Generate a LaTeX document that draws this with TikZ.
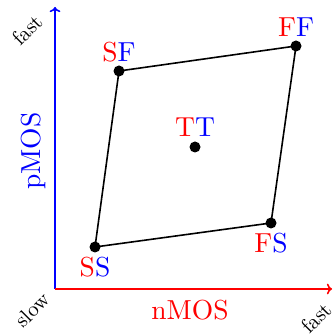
\documentclass[tikz,border=0pt]{standalone}
\usetikzlibrary{arrows.meta}
\begin{document}
\begin{tikzpicture}[x=1pt,y=1pt,
  axis/.style={line width=1.6pt,->},
  edge/.style={line width=1.6pt,black},
  corner/.style={circle,fill=black,inner sep=0pt,minimum size=11pt},
  lbl/.style={inner sep=0pt,anchor=base,scale=2.75,transform shape},
  ax/.style={inner sep=0pt,scale=2.1,transform shape}]
\useasboundingbox (0,0) rectangle (333,336);
\coordinate (O) at (55,47);
\coordinate (Y) at (55,329);
\coordinate (X) at (332,47);
\draw[axis,blue] (O) -- (Y);
\draw[axis,red] (O) -- (X);
\node[corner] (SS) at (95,89) {};
\node[corner] (FS) at (271,113) {};
\node[corner] (SF) at (119,265) {};
\node[corner] (FF) at (296,290) {};
\node[corner] (TT) at (195,189) {};
\draw[edge] (SS.center) -- (FS.center) -- (FF.center) -- (SF.center) -- cycle;
\node[lbl] (lSF) at (119,274) {\textcolor{red}{S}\textcolor{blue}{F}};
\node[lbl] (lFF) at (296,299) {\textcolor{red}{F}\textcolor{blue}{F}};
\node[lbl] (lTT) at (195,199) {\textcolor{red}{T}\textcolor{blue}{T}};
\node[lbl] (lFS) at (271,83) {\textcolor{red}{F}\textcolor{blue}{S}};
\node[lbl] (lSS) at (95,59) {\textcolor{red}{S}\textcolor{blue}{S}};
\node[lbl,red] (nmos) at (190,16) {nMOS};
\node[lbl,blue,rotate=90] (pmos) at (40,185) {pMOS};
\node[ax,rotate=45] (fy) at (27,306) {fast};
\node[ax,rotate=45] (slow) at (32,26) {slow};
\node[ax,rotate=45] (fx) at (316,18) {fast};
\end{tikzpicture}
\end{document}
